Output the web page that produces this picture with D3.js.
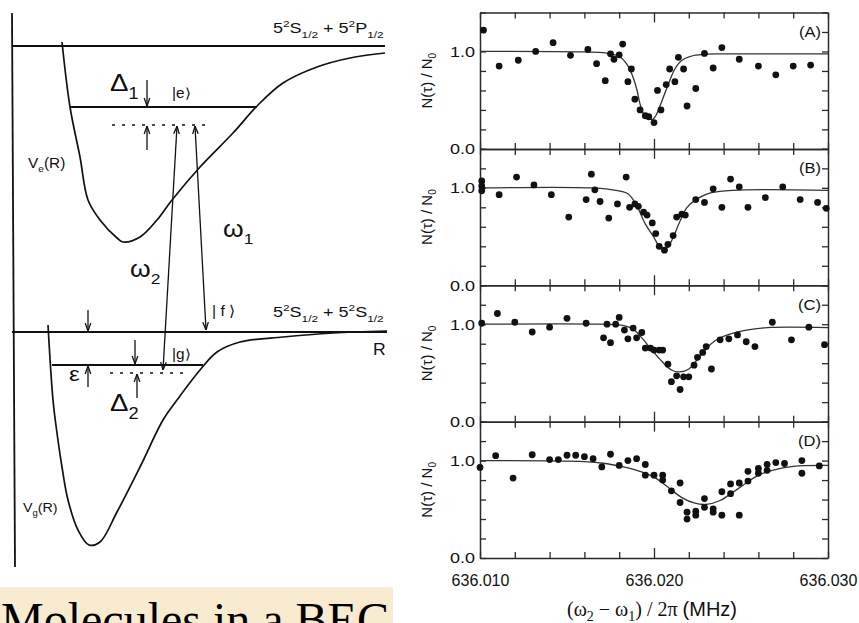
<!DOCTYPE html>
<html>
<head>
<meta charset="utf-8">
<script src="https://cdn.jsdelivr.net/npm/d3@7"></script>
<style>
  body { margin: 0; background: #fff; }
  svg { display: block; }
</style>
</head>
<body>
<div id="viz"></div>
<script>
// ---- right side: four loss spectra ----
var panelLabels = ['(A)', '(B)', '(C)', '(D)'];
var freqDomain = [636.010, 636.030];
var freqTicks = [636.010, 636.012, 636.014, 636.016, 636.018, 636.020, 636.022, 636.024, 636.026, 636.028, 636.030];
var freqLabels = [636.010, 636.020, 636.030];
var ratioTicks = [0, 0.2, 0.4, 0.6, 0.8, 1.0, 1.2, 1.4];
var ratioLabels = [0, 1.0];

var pointsA = [[636.0102,1.22],[636.0111,0.85],[636.0122,0.91],[636.0132,1.00],[636.0142,1.09],[636.0152,0.96],[636.0162,1.02],[636.0167,0.875],[636.0172,0.70],[636.0175,0.976],[636.0177,0.92],[636.0180,0.965],[636.0182,1.076],[636.0185,0.69],[636.0187,0.82],[636.0189,0.51],[636.0192,0.40],[636.0195,0.34],[636.0197,0.33],[636.0200,0.27],[636.0202,0.60],[636.0204,0.40],[636.0207,0.66],[636.0209,0.82],[636.0212,0.69],[636.0214,0.94],[636.0217,0.82],[636.0219,0.44],[636.0224,0.62],[636.0229,0.98],[636.0234,0.83],[636.0239,1.04],[636.0249,0.92],[636.0260,0.85],[636.0270,0.76],[636.0280,0.85],[636.0290,0.86]];
var curveA = [[636.0100,1.0],[636.0160,0.995],[636.0172,0.985],[636.0180,0.95],[636.0184,0.88],[636.0187,0.78],[636.0190,0.62],[636.0192,0.46],[636.0194,0.36],[636.0197,0.31],[636.0199,0.30],[636.0201,0.34],[636.0203,0.42],[636.0206,0.56],[636.0209,0.70],[636.0212,0.82],[636.0216,0.91],[636.0221,0.95],[636.0228,0.97],[636.0240,0.975],[636.0300,0.975]];

var pointsB = [[636.0101,1.07],[636.0101,1.02],[636.0101,0.97],[636.0111,0.93],[636.0121,1.11],[636.0131,1.03],[636.0141,0.93],[636.0151,0.70],[636.0161,0.88],[636.0164,1.14],[636.0166,0.98],[636.0169,0.86],[636.0174,0.69],[636.0179,0.835],[636.0184,1.11],[636.0186,0.80],[636.0189,0.835],[636.0191,0.81],[636.0194,0.75],[636.0196,0.72],[636.0199,0.64],[636.0201,0.53],[636.0203,0.40],[636.0206,0.36],[636.0208,0.42],[636.0211,0.51],[636.0213,0.70],[636.0216,0.73],[636.0218,0.72],[636.0224,0.88],[636.0229,0.85],[636.0234,0.99],[636.0239,0.80],[636.0244,1.09],[636.0249,1.01],[636.0254,0.80],[636.0264,0.90],[636.0274,1.01],[636.0284,0.88],[636.0294,0.85],[636.0299,0.79]];
var curveB = [[636.0100,1.0],[636.0164,1.0],[636.0176,0.98],[636.0185,0.94],[636.0190,0.82],[636.0195,0.63],[636.0200,0.49],[636.0203,0.40],[636.0206,0.37],[636.0208,0.39],[636.0211,0.49],[636.0215,0.66],[636.0219,0.80],[636.0226,0.90],[636.0233,0.95],[636.0245,0.975],[636.0300,0.975]];

var pointsC = [[636.0101,1.01],[636.0110,1.11],[636.0120,1.02],[636.0130,0.92],[636.0140,0.97],[636.0150,1.06],[636.0161,1.01],[636.0171,0.86],[636.0173,1.00],[636.0175,0.81],[636.0178,1.00],[636.0180,1.07],[636.0183,0.94],[636.0185,0.85],[636.0188,0.96],[636.0190,0.86],[636.0193,0.915],[636.0195,0.755],[636.0198,0.755],[636.0200,0.735],[636.0203,0.735],[636.0205,0.735],[636.0208,0.59],[636.0210,0.41],[636.0213,0.47],[636.0215,0.33],[636.0217,0.46],[636.0220,0.46],[636.0223,0.58],[636.0225,0.66],[636.0228,0.71],[636.0230,0.77],[636.0233,0.54],[636.0238,0.84],[636.0243,0.85],[636.0248,0.89],[636.0253,0.82],[636.0258,0.77],[636.0268,1.02],[636.0279,0.84],[636.0289,0.97],[636.0298,0.79]];
var curveC = [[636.0100,1.0],[636.0170,1.0],[636.0181,0.99],[636.0188,0.95],[636.0193,0.86],[636.0199,0.73],[636.0205,0.61],[636.0210,0.53],[636.0215,0.51],[636.0220,0.54],[636.0225,0.64],[636.0230,0.75],[636.0236,0.84],[636.0244,0.90],[636.0253,0.94],[636.0265,0.965],[636.0300,0.965]];

var pointsD = [[636.0100,0.93],[636.0109,1.05],[636.0119,0.82],[636.0130,1.06],[636.0140,1.01],[636.0145,1.01],[636.0150,1.055],[636.0155,1.055],[636.0160,1.04],[636.0165,1.02],[636.0170,0.935],[636.0175,1.065],[636.0180,0.95],[636.0185,1.00],[636.0190,1.02],[636.0195,0.96],[636.0195,0.85],[636.0200,0.85],[636.0205,0.85],[636.0205,0.80],[636.0210,0.69],[636.0215,0.77],[636.0215,0.57],[636.0219,0.47],[636.0219,0.40],[636.0224,0.48],[636.0224,0.44],[636.0229,0.61],[636.0229,0.52],[636.0234,0.505],[636.0234,0.47],[636.0239,0.68],[636.0239,0.44],[636.0244,0.76],[636.0244,0.66],[636.0249,0.77],[636.0249,0.44],[636.0254,0.89],[636.0254,0.79],[636.0260,0.92],[636.0260,0.87],[636.0265,0.96],[636.0265,0.90],[636.0270,0.98],[636.0275,0.97],[636.0285,1.00],[636.0285,0.87],[636.0295,0.945]];
var curveD = [[636.0100,1.0],[636.0160,0.99],[636.0172,0.97],[636.0181,0.94],[636.0190,0.90],[636.0199,0.84],[636.0205,0.77],[636.0210,0.70],[636.0216,0.62],[636.0223,0.565],[636.0230,0.55],[636.0238,0.59],[636.0245,0.67],[636.0253,0.77],[636.0260,0.85],[636.0268,0.90],[636.0280,0.94],[636.0300,0.95]];

var panelPoints = [pointsA, pointsB, pointsC, pointsD];
var panelCurves = [curveA, curveB, curveC, curveD];

// ---- left side: potential sketch, in sketch units (R across, E up) ----
var vePotential = [[50,525],[58,460],[68,410],[76,367],[88,347],[105,329],[111,325],[128,330],[145,347],[160,367],[188,400],[221,434],[246,462],[271,484],[305,500],[338,509],[373,514]];
var vgPotential = [[36,242],[41,167],[45,134],[50,100],[56,67],[66,37],[77,22],[88,25],[105,55],[128,100],[151,147],[165,167],[188,197],[205,215],[228,225],[271,230],[321,234],[375,236]];
var solidLevels = [[0,373,521],[58,245,460],[0,375,235],[40,191,202]];   // [R from, R to, E]
var dottedLevels = [[100,198,442],[98,175,194]];
var shortArrows = [[135,487,461],[135,417,441],[76,257,236],[123,227,203],[76,180,201],[125,169,193]]; // [R, E from, E to]
var laserArrows = [[151,197,165,441],[194,237,183,441]];               // [R1,E1,R2,E2]
var axisLine = [[0,554],[3,0]];

var width = 859, height = 623;
var svg = d3.select('#viz').append('svg')
  .attr('width', width)
  .attr('height', height);

var sans = 'Liberation Sans, Arial, Helvetica, sans-serif';
var serif = 'Liberation Serif, Times New Roman, serif';
var ink = '#111';

// text with sub/superscripts, optionally stretched sideways like the scan
function richText(g, px, py, parts, size, family, stretch, anchor) {
  var t = g.append('text')
    .attr('transform', 'translate(' + px + ',' + py + ') scale(' + (stretch || 1) + ',1)')
    .attr('font-family', family)
    .attr('font-size', size)
    .attr('fill', ink)
    .attr('text-anchor', anchor || 'start');
  var shift = 0;
  parts.forEach(function(p) {
    var s = p[1] === 'sub' ? size * 0.32 : p[1] === 'sup' ? -size * 0.42 : 0;
    var ts = t.append('tspan')
      .attr('dy', s - shift)
      .attr('font-size', p[1] ? size * 0.66 : size)
      .text(p[0]);
    if (p[2]) ts.attr('font-family', p[2]);
    shift = s;
  });
  return t;
}

// ================= left: sketch =================
var sx = d3.scaleLinear().domain([0, 375]).range([12, 387]);
var sy = d3.scaleLinear().domain([0, 554]).range([567, 13]);

var defs = svg.append('defs');
defs.append('marker')
  .attr('id', 'head')
  .attr('viewBox', '0 0 10 10')
  .attr('refX', 10).attr('refY', 5)
  .attr('markerWidth', 8).attr('markerHeight', 8)
  .attr('markerUnits', 'userSpaceOnUse')
  .attr('orient', 'auto-start-reverse')
  .append('path')
  .attr('d', 'M0,1.5 L10,5 L0,8.5')
  .attr('fill', 'none')
  .attr('stroke', ink)
  .attr('stroke-width', 1.6);

var sketch = svg.append('g').attr('class', 'sketch');

var potLine = d3.line()
  .x(function(d) { return sx(d[0]); })
  .y(function(d) { return sy(d[1]); })
  .curve(d3.curveCatmullRom.alpha(0.5));

sketch.append('path').datum(axisLine)
  .attr('d', d3.line().x(function(d) { return sx(d[0]); }).y(function(d) { return sy(d[1]); }))
  .attr('stroke', ink).attr('stroke-width', 1.8).attr('fill', 'none');

sketch.selectAll('.pot').data([vePotential, vgPotential]).enter()
  .append('path').attr('class', 'pot')
  .attr('d', potLine)
  .attr('fill', 'none').attr('stroke', ink).attr('stroke-width', 1.7);

sketch.selectAll('.lvl').data(solidLevels).enter()
  .append('line').attr('class', 'lvl')
  .attr('x1', function(d) { return sx(d[0]); })
  .attr('x2', function(d) { return sx(d[1]); })
  .attr('y1', function(d) { return sy(d[2]); })
  .attr('y2', function(d) { return sy(d[2]); })
  .attr('stroke', ink).attr('stroke-width', 1.9);

sketch.selectAll('.dot').data(dottedLevels).enter()
  .append('line').attr('class', 'dot')
  .attr('x1', function(d) { return sx(d[0]); })
  .attr('x2', function(d) { return sx(d[1]); })
  .attr('y1', function(d) { return sy(d[2]); })
  .attr('y2', function(d) { return sy(d[2]); })
  .attr('stroke', ink).attr('stroke-width', 1.6)
  .attr('stroke-dasharray', '3,7');

sketch.selectAll('.sarrow').data(shortArrows).enter()
  .append('line').attr('class', 'sarrow')
  .attr('x1', function(d) { return sx(d[0]); })
  .attr('x2', function(d) { return sx(d[0]); })
  .attr('y1', function(d) { return sy(d[1]); })
  .attr('y2', function(d) { return sy(d[2]); })
  .attr('stroke', ink).attr('stroke-width', 1.3)
  .attr('marker-end', 'url(#head)');

sketch.selectAll('.larrow').data(laserArrows).enter()
  .append('line').attr('class', 'larrow')
  .attr('x1', function(d) { return sx(d[0]); })
  .attr('y1', function(d) { return sy(d[1]); })
  .attr('x2', function(d) { return sx(d[2]); })
  .attr('y2', function(d) { return sy(d[3]); })
  .attr('stroke', ink).attr('stroke-width', 1.3)
  .attr('marker-start', 'url(#head)')
  .attr('marker-end', 'url(#head)');

// labels
richText(sketch, sx(261), sy(534), [['5'],['2','sup'],['S'],['1/2','sub'],[' + 5'],['2','sup'],['P'],['1/2','sub']], 15, sans, 1.2);
richText(sketch, sx(261), sy(250), [['5'],['2','sup'],['S'],['1/2','sub'],[' + 5'],['2','sup'],['S'],['1/2','sub']], 15, sans, 1.2);
richText(sketch, sx(98), sy(476), [['Δ'],['1','sub']], 24, sans, 1.15);
richText(sketch, sx(160), sy(469), [['|e\u27E9']], 14, sans, 1.1);
richText(sketch, sx(16), sy(399), [['V'],['e','sub'],['(R)']], 14, sans, 1.1);
richText(sketch, sx(211), sy(330), [['ω'],['1','sub']], 23, sans, 1.15);
richText(sketch, sx(118), sy(290), [['ω'],['2','sub']], 23, sans, 1.15);
richText(sketch, sx(200), sy(251), [['| f \u27E9']], 15, sans, 1.05);
richText(sketch, sx(361), sy(212), [['R']], 16, sans, 1.1);
richText(sketch, sx(160), sy(208), [['|g\u27E9']], 14, sans, 1.1);
richText(sketch, sx(57), sy(186), [['ε']], 21, sans, 1.15);
richText(sketch, sx(98), sy(156), [['Δ'],['2','sub']], 24, sans, 1.15);
richText(sketch, sx(11), sy(55), [['V'],['g','sub'],['(R)']], 13, sans, 1.1);

// slide caption strip (cut by the bottom edge, as on the slide)
svg.append('rect')
  .attr('x', 0).attr('y', 587)
  .attr('width', 393).attr('height', 36)
  .attr('fill', '#f9ebd0');
svg.append('text')
  .attr('x', 1).attr('y', 636)
  .attr('font-family', serif)
  .attr('font-size', 48)
  .attr('fill', '#000')
  .text('Molecules in a BEC');

// ================= right: spectra =================
var left = 480, right = 828, top0 = 12.5, bottom = 558;
var panelH = (bottom - top0) / 4;
var x = d3.scaleLinear().domain(freqDomain).range([left, right]);
var frame = '#2a2a2a';

function styleAxis(g) {
  g.select('.domain').attr('stroke', frame).attr('stroke-width', 1.5);
  g.selectAll('.tick line').attr('stroke', frame).attr('stroke-width', 1.3);
  g.selectAll('.tick text').attr('fill', ink);
  g.attr('font-family', sans);
}

function isCenter(d) { return Math.abs(d - 636.020) < 1e-7; }

panelPoints.forEach(function(pts, i) {
  var top = top0 + i * panelH;
  var y = d3.scaleLinear().domain([0, 1.4]).range([top + panelH, top]);
  var g = svg.append('g').attr('class', 'panel');

  // left axis with the two labels
  var yl = g.append('g').attr('transform', 'translate(' + left + ',0)')
    .call(d3.axisLeft(y).tickValues(ratioTicks).tickSize(-6).tickSizeOuter(0).tickPadding(5)
      .tickFormat(function(d) { return ratioLabels.indexOf(d) >= 0 ? d.toFixed(1) : ''; }));
  styleAxis(yl);
  yl.attr('font-size', 15);
  yl.selectAll('.tick text').attr('transform', 'scale(1.2,1)').attr('x', -5 / 1.2);

  var yr = g.append('g').attr('transform', 'translate(' + right + ',0)')
    .call(d3.axisRight(y).tickValues(ratioTicks).tickSize(-6).tickSizeOuter(0).tickFormat(''));
  styleAxis(yr);

  var xt = g.append('g').attr('transform', 'translate(0,' + top + ')')
    .call(d3.axisTop(x).tickValues(freqTicks).tickSize(-6).tickSizeOuter(0).tickFormat(''));
  styleAxis(xt);
  xt.selectAll('.tick').filter(isCenter).select('line').attr('y2', 10);

  var xb = g.append('g').attr('transform', 'translate(0,' + (top + panelH) + ')')
    .call(d3.axisBottom(x).tickValues(freqTicks).tickSize(-6).tickSizeOuter(0).tickPadding(17)
      .tickFormat(function(d) {
        if (i < 3) return '';
        return freqLabels.some(function(l) { return Math.abs(l - d) < 1e-7; }) ? d.toFixed(3) : '';
      }));
  styleAxis(xb);
  xb.attr('font-size', 16);
  xb.selectAll('.tick').filter(isCenter).select('line').attr('y2', -10);

  // fit curve
  g.append('path').datum(panelCurves[i])
    .attr('d', d3.line()
      .x(function(d) { return x(d[0]); })
      .y(function(d) { return y(d[1]); })
      .curve(d3.curveCatmullRom.alpha(0.5)))
    .attr('fill', 'none').attr('stroke', '#333').attr('stroke-width', 1.3);

  // data points
  g.selectAll('circle').data(pts).enter().append('circle')
    .attr('cx', function(d) { return x(d[0]); })
    .attr('cy', function(d) { return y(d[1]); })
    .attr('r', 3.4)
    .attr('fill', ink);

  // panel tag
  richText(g, right - 7, y(1.2) + 5, [[panelLabels[i]]], 15, sans, 1.1, 'end');

  // y title
  g.append('text')
    .attr('transform', 'translate(432,' + (top + panelH / 2) + ') rotate(-90)')
    .attr('text-anchor', 'middle')
    .attr('font-family', sans)
    .attr('font-size', 15)
    .attr('fill', ink)
    .call(function(t) {
      t.append('tspan').text('N(\u03C4) / N');
      t.append('tspan').attr('dy', 4).attr('font-size', 10).text('0');
    });
});

// x title
svg.append('text')
  .attr('x', 652).attr('y', 616)
  .attr('text-anchor', 'middle')
  .attr('font-size', 20)
  .attr('fill', ink)
  .call(function(t) {
    t.append('tspan').attr('font-family', serif).text('(\u03C9');
    t.append('tspan').attr('font-family', serif).attr('dy', 5).attr('font-size', 14).text('2');
    t.append('tspan').attr('font-family', serif).attr('dy', -5).text(' \u2212 \u03C9');
    t.append('tspan').attr('font-family', serif).attr('dy', 5).attr('font-size', 14).text('1');
    t.append('tspan').attr('font-family', serif).attr('dy', -5).text(') / 2\u03C0  ');
    t.append('tspan').attr('font-family', sans).text('(MHz)');
  });
</script>
</body>
</html>
